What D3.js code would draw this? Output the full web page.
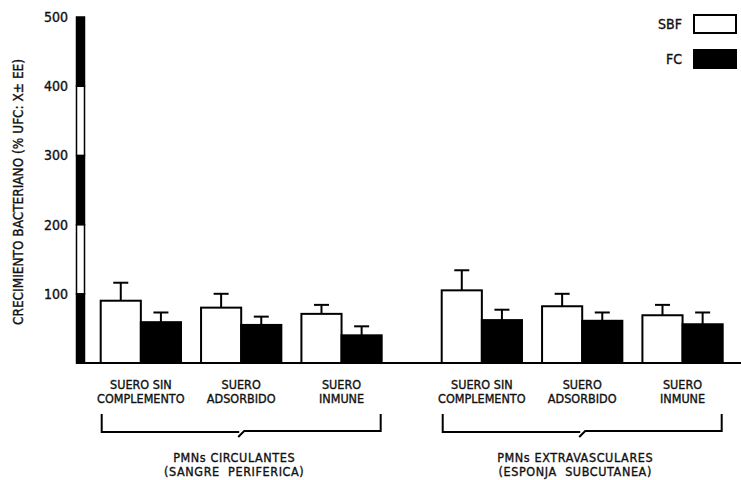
<!DOCTYPE html>
<html>
<head>
<meta charset="utf-8">
<script src="https://cdn.jsdelivr.net/npm/d3@7"></script>
<style>
  body { margin: 0; background: #fff; }
  text { font-family: "DejaVu Sans Condensed", "DejaVu Sans", sans-serif; fill: #111; stroke: #111; stroke-width: 0.35px; white-space: pre; }
</style>
</head>
<body>
<script>
// datos
var grupos = ["PMNs CIRCULANTES", "PMNs EXTRAVASCULARES"];
var gruposSub = ["(SANGRE  PERIFERICA)", "(ESPONJA  SUBCUTANEA)"];
var sueros = [["SUERO SIN", "COMPLEMENTO"], ["SUERO", "ADSORBIDO"], ["SUERO", "INMUNE"]];
var series = ["SBF", "FC"];
var sbf = [90, 80, 71, 105, 82, 69];
var sbfEE = [26, 20, 13, 29, 18, 15];
var fc = [59, 55, 40, 62, 61, 56];
var fcEE = [14, 12, 13, 15, 12, 17];
var yTicks = [100, 200, 300, 400, 500];

var W = 741, H = 480;
var svg = d3.select("body").append("svg").attr("width", W).attr("height", H);

var y = d3.scaleLinear().domain([0, 500]).range([363, 17]);
var x0 = d3.scaleBand().domain([0, 1]).range([100.7, 722.7]).paddingInner(0.176);
var x1 = d3.scaleBand().domain([0, 1, 2]).range([0, x0.bandwidth()]).paddingInner(0.2);
var x2 = d3.scaleBand().domain(series).range([0, x1.bandwidth()]);
var color = d3.scaleOrdinal().domain(series).range(["#fff", "#000"]);

// filas de datos: grupo, suero, serie
var filas = [];
grupos.forEach(function(g, gi) {
  sueros.forEach(function(s, si) {
    var k = gi * 3 + si;
    filas.push({g: gi, s: si, serie: "SBF", v: sbf[k], e: sbfEE[k]});
    filas.push({g: gi, s: si, serie: "FC", v: fc[k], e: fcEE[k]});
  });
});
function bx(d) { return x0(d.g) + x1(d.s) + x2(d.serie); }

// barras de error (solo hacia arriba)
var err = svg.append("g").attr("stroke", "#000").attr("stroke-width", 2);
err.selectAll("line.v").data(filas).enter().append("line")
  .attr("x1", function(d) { return bx(d) + x2.bandwidth() / 2; })
  .attr("x2", function(d) { return bx(d) + x2.bandwidth() / 2; })
  .attr("y1", function(d) { return y(d.v); })
  .attr("y2", function(d) { return y(d.v + d.e); });
err.selectAll("line.c").data(filas).enter().append("line")
  .attr("x1", function(d) { return bx(d) + x2.bandwidth() / 2 - 7.5; })
  .attr("x2", function(d) { return bx(d) + x2.bandwidth() / 2 + 7.5; })
  .attr("y1", function(d) { return y(d.v + d.e); })
  .attr("y2", function(d) { return y(d.v + d.e); });

// barras
svg.append("g").selectAll("rect").data(filas).enter().append("rect")
  .attr("x", bx)
  .attr("y", function(d) { return y(d.v); })
  .attr("width", x2.bandwidth())
  .attr("height", function(d) { return y(0) - y(d.v); })
  .attr("fill", function(d) { return color(d.serie); })
  .attr("stroke", "#000").attr("stroke-width", 2);

// linea base
svg.append("line").attr("x1", 76).attr("x2", W).attr("y1", y(0)).attr("y2", y(0))
  .attr("stroke", "#000").attr("stroke-width", 2);

// eje y: barra a cuadros
var tramos = [0].concat(yTicks);
svg.append("g").selectAll("rect").data(d3.range(tramos.length - 1)).enter().append("rect")
  .attr("x", 76.5).attr("width", 8)
  .attr("y", function(i) { return y(tramos[i + 1]); })
  .attr("height", function(i) { return y(tramos[i]) - y(tramos[i + 1]); })
  .attr("fill", function(i) { return i % 2 === 0 ? "#000" : "#fff"; })
  .attr("stroke", "#000").attr("stroke-width", 1.5);

svg.append("g").selectAll("text").data(yTicks).enter().append("text")
  .attr("x", 68).attr("y", function(d) { return y(d) + 5; })
  .attr("text-anchor", "end").style("font-size", "14px")
  .text(function(d) { return d; });

svg.append("text")
  .attr("transform", "translate(23,192) rotate(-90)")
  .attr("text-anchor", "middle").style("font-size", "13.5px")
  .text("CRECIMIENTO BACTERIANO (% UFC: X\u00b1 EE)");

// etiquetas de suero
filas.filter(function(d) { return d.serie === "SBF"; }).forEach(function(d) {
  var cx = x0(d.g) + x1(d.s) + x1.bandwidth() / 2;
  svg.append("g").selectAll("text").data(sueros[d.s]).enter().append("text")
    .attr("x", cx).attr("y", function(t, i) { return 389 + i * 14; })
    .attr("text-anchor", "middle").style("font-size", "12.5px")
    .text(function(t) { return t; });
});

// llaves y nombres de grupo
grupos.forEach(function(g, gi) {
  var a = x0(gi) + 1, b = x0(gi) + x0.bandwidth() - 1, m = x0(gi) + x0.bandwidth() / 2;
  svg.append("path")
    .attr("d", "M" + a + ",414 V432 H" + (m - 2) + " M" + (m - 3) + ",437 L" + (m + 3) + ",431 H" + b + " V414")
    .attr("fill", "none").attr("stroke", "#000").attr("stroke-width", 2);
  svg.append("text").attr("x", m - 7).attr("y", 462)
    .attr("text-anchor", "middle").style("font-size", "12.5px").style("letter-spacing", "0.6px")
    .text(g);
  svg.append("text").attr("x", m - 7).attr("y", 476)
    .attr("text-anchor", "middle").style("font-size", "12.5px").style("letter-spacing", "0.6px")
    .text(gruposSub[gi]);
});

// leyenda
var ley = svg.append("g").selectAll("g").data(series).enter().append("g")
  .attr("transform", function(d, i) { return "translate(0," + (i * 35) + ")"; });
ley.append("rect").attr("x", 694).attr("y", 15).attr("width", 42).attr("height", 18)
  .attr("fill", function(d) { return color(d); }).attr("stroke", "#000").attr("stroke-width", 2);
ley.append("text").attr("x", 682).attr("y", 29).attr("text-anchor", "end")
  .style("font-size", "14px").text(function(d) { return d; });
</script>
</body>
</html>
